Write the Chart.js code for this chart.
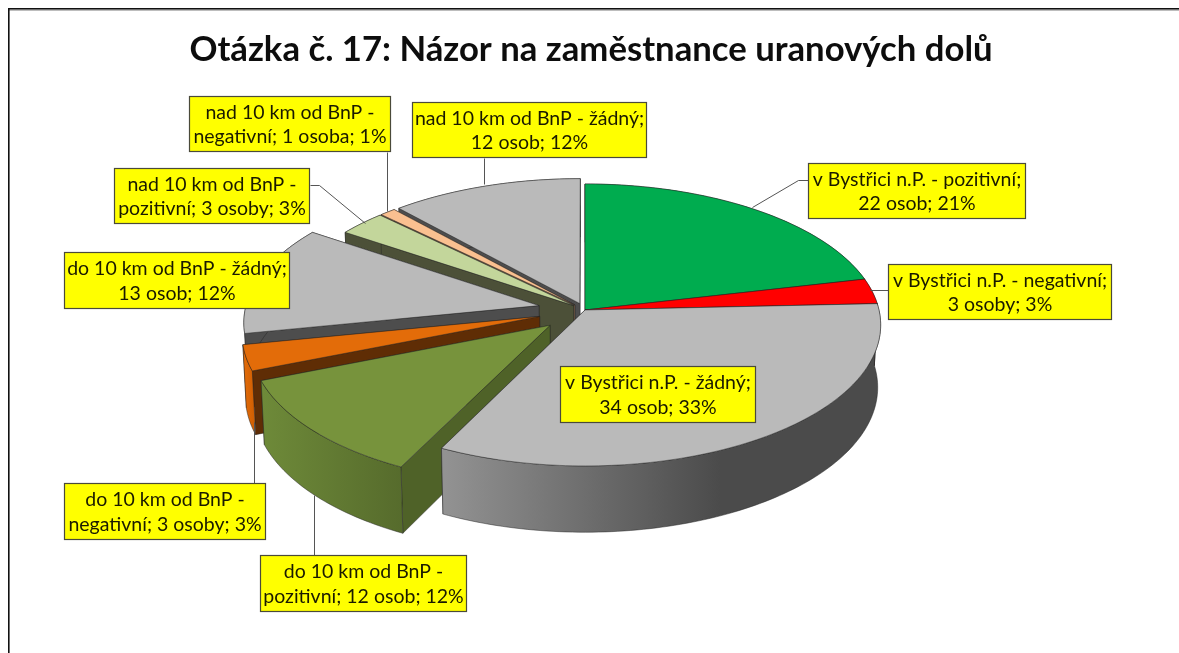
<!DOCTYPE html>
<html lang="cs">
<head>
<meta charset="utf-8">
<title>Otázka č. 17</title>
<style>html,body{margin:0;padding:0;background:#fff}canvas{display:block}</style>
<script src="https://cdn.jsdelivr.net/npm/chart.js@4/dist/chart.umd.min.js"></script>
</head>
<body>
<canvas id="c" width="1179" height="653"></canvas>
<script>
const chartTitle = "Otázka č. 17: Názor na zaměstnance uranových dolů";
const categories = [
  "v Bystřici n.P. - pozitivní", "v Bystřici n.P. - negativní", "v Bystřici n.P. - žádný",
  "do 10 km od BnP - pozitivní", "do 10 km od BnP - negativní", "do 10 km od BnP - žádný",
  "nad 10 km od BnP - pozitivní", "nad 10 km od BnP - negativní", "nad 10 km od BnP - žádný"
];
const values = [22, 3, 34, 12, 3, 13, 3, 1, 12];
const labelLines = [
  ["v Bystřici n.P. - pozitivní;", "22 osob; 21%"],
  ["v Bystřici n.P. - negativní;", "3 osoby; 3%"],
  ["v Bystřici n.P. - žádný;", "34 osob; 33%"],
  ["do 10 km od BnP -", "pozitivní; 12 osob; 12%"],
  ["do 10 km od BnP -", "negativní; 3 osoby; 3%"],
  ["do 10 km od BnP - žádný;", "13 osob; 12%"],
  ["nad 10 km od BnP -", "pozitivní; 3 osoby; 3%"],
  ["nad 10 km od BnP -", "negativní; 1 osoba; 1%"],
  ["nad 10 km od BnP - žádný;", "12 osob; 12%"]
];
const sliceColors = ["#00AC4F", "#FF0000", "#BABABA", "#77933C", "#E36C09", "#BABABA", "#C3D69B", "#FAC090", "#BABABA"];
const explodePercent = [0, 0, 0, 16, 16, 16, 5, 5, 5];

/* styling of the 3-D look */
const radialWallColors = ["#00622d", "#8f0000", "#4d4d4d", "#4f6228", "#5f2d05", "#4d4d4d", "#4c5038", "#8a6a4f", "#4d4d4d"];
const outerWallStops = [
  ["#00622d", "#00622d"], ["#8f0000", "#8f0000"], ["#929292", "#4b4b4b"],
  ["#6e8a39", "#566b2c"], ["#e36c09", "#c85a00"], ["#4d4d4d", "#4d4d4d"],
  ["#4c5038", "#4c5038"], ["#8a6a4f", "#8a6a4f"], ["#4d4d4d", "#4d4d4d"]
];
const wallGradientX = [[585, 880], [585, 880], [445, 720], [262, 403], [244, 258], [240, 400], [340, 400], [380, 400], [400, 580]];
const paintOrder = [0, 1, 8, 7, 6, 5, 4, 3, 2];

/* label boxes: left, top, right, bottom */
const labelBoxes = [
  [808, 163, 1026, 219], [888, 264, 1112, 320], [560, 366, 756, 423],
  [260, 555, 467, 612], [64, 483, 266, 540], [64, 252, 290, 309],
  [114, 168, 310, 224], [189, 96, 391, 152], [412, 102, 647, 158]
];
const leaderLines = [
  [[752, 207], [798, 180], [808, 180]],
  [[870, 290], [888, 290]],
  [],
  [[314, 495], [314, 555]],
  [[254, 422], [254, 483]],
  [],
  [[310, 185], [319, 185], [365, 223]],
  [[387, 152], [387, 211]],
  [[484, 158], [484, 184]]
];

const view = { cx: 585, cy: 310, rx: 294, ry: 139.4, persp: 0.106, depth: 62, shrink: 0.99 };
function project(u, v, bottom) {
  const w = 1 - view.persp * v;
  let x = view.rx * u / w, y = view.ry * v / w;
  if (bottom) { x *= view.shrink; y += view.depth / Math.pow(w, 0.6); }
  return [view.cx + x, view.cy + y];
}
function fillPoly(ctx, pts, fill, stroke) {
  ctx.beginPath();
  pts.forEach((p, k) => k ? ctx.lineTo(p[0], p[1]) : ctx.moveTo(p[0], p[1]));
  ctx.closePath();
  ctx.fillStyle = fill;
  ctx.fill();
  ctx.lineWidth = 0.8;
  ctx.lineJoin = "round";
  ctx.strokeStyle = stroke;
  ctx.stroke();
}
function drawSlice(ctx, el, i) {
  const a0 = el.startAngle, a1 = el.endAngle, mid = (a0 + a1) / 2;
  const d = explodePercent[i] / 100;
  const ox = Math.cos(mid) * d, oy = Math.sin(mid) * d;
  const n = Math.max(4, Math.ceil((a1 - a0) / 0.02));
  const rim = [];
  for (let k = 0; k <= n; k++) {
    const t = a0 + (a1 - a0) * k / n;
    rim.push([ox + Math.cos(t), oy + Math.sin(t)]);
  }
  const top = p => project(p[0], p[1], false);
  const bot = p => project(p[0], p[1], true);
  const apex = [ox, oy], first = rim[0], last = rim[n];
  const edge = "rgba(35,35,35,0.6)";
  fillPoly(ctx, [top(apex), top(last), bot(last), bot(apex)], radialWallColors[i], edge);
  fillPoly(ctx, [top(apex), top(first), bot(first), bot(apex)], radialWallColors[i], edge);
  const g = ctx.createLinearGradient(wallGradientX[i][0], 0, wallGradientX[i][1], 0);
  g.addColorStop(0, outerWallStops[i][0]);
  g.addColorStop(1, outerWallStops[i][1]);
  fillPoly(ctx, rim.map(top).concat(rim.slice().reverse().map(bot)), g, edge);
  fillPoly(ctx, [top(apex)].concat(rim.map(top)), el.options.backgroundColor, edge);
}

const pie3d = {
  id: "pie3d",
  beforeDraw(chart) {
    const ctx = chart.ctx;
    ctx.save();
    ctx.fillStyle = "#fff";
    ctx.fillRect(0, 0, chart.width, chart.height);
    ctx.fillStyle = "#bdbdbd";
    ctx.fillRect(9, 10, chart.width - 9, 1);
    ctx.fillStyle = "#111";
    ctx.fillRect(8, 8, chart.width - 8, 1.6);
    ctx.fillRect(8, 8, 1.6, chart.height - 8);
    ctx.restore();
  },
  beforeDatasetDraw(chart, args) {
    const ctx = chart.ctx, arcs = chart.getDatasetMeta(args.index).data;
    ctx.save();
    paintOrder.forEach(i => drawSlice(ctx, arcs[i], i));
    ctx.restore();
    return false;
  },
  afterDraw(chart) {
    const ctx = chart.ctx;
    ctx.save();
    ctx.strokeStyle = "#555";
    ctx.lineWidth = 1;
    leaderLines.forEach(line => {
      if (!line.length) return;
      ctx.beginPath();
      line.forEach((p, k) => k ? ctx.lineTo(p[0] + .5, p[1] + .5) : ctx.moveTo(p[0] + .5, p[1] + .5));
      ctx.stroke();
    });
    ctx.textAlign = "center";
    ctx.textBaseline = "middle";
    labelBoxes.forEach((b, i) => {
      ctx.fillStyle = "#FFFF00";
      ctx.fillRect(b[0], b[1], b[2] - b[0], b[3] - b[1]);
      ctx.strokeStyle = "#4a4a3a";
      ctx.lineWidth = 1.2;
      ctx.strokeRect(b[0] + .5, b[1] + .5, b[2] - b[0] - 1, b[3] - b[1] - 1);
      ctx.fillStyle = "#1a1a00";
      ctx.font = "19.5px Lato";
      const mx = (b[0] + b[2]) / 2, my = (b[1] + b[3]) / 2;
      ctx.fillText(labelLines[i][0], mx, my - 11.5);
      ctx.fillText(labelLines[i][1], mx, my + 13);
    });
    ctx.restore();
  }
};

new Chart(document.getElementById("c"), {
  type: "pie",
  data: {
    labels: categories,
    datasets: [{ data: values, backgroundColor: sliceColors, offset: explodePercent, borderWidth: 0 }]
  },
  options: {
    responsive: false,
    animation: false,
    layout: { padding: { left: 3 } },
    plugins: {
      legend: { display: false },
      tooltip: { enabled: false },
      title: {
        display: true,
        text: chartTitle,
        color: "#0d0d0d",
        font: { family: "Lato", size: 34.7, weight: "bold" },
        padding: { top: 29, bottom: 10 }
      }
    }
  },
  plugins: [pie3d]
});
</script>
</body>
</html>
